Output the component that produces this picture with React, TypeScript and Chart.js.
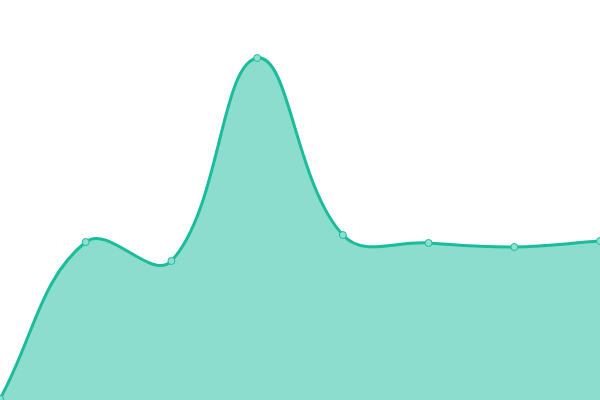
import { useEffect, useRef } from 'react';
import Chart from 'chart.js/auto';

const labels = ['1', '2', '3', '4', '5', '6', '7', '8'];
const values = [1, 158, 139, 342, 165, 157, 153, 159];

const AreaChart = () => {
    const chartRef = useRef<HTMLCanvasElement | null>(null);
    const chartInstance = useRef<Chart<"line", number[], string> | null>(null);

    useEffect(() => {
        document.body.style.margin = '0';
        if (chartRef.current) {
            if (chartInstance.current) {
                chartInstance.current.destroy();
            }

            chartInstance.current = new Chart(chartRef.current, {
                type: 'line',
                data: {
                    labels: labels,
                    datasets: [{
                        data: values,
                        fill: true,
                        tension: 0.4,
                        borderColor: '#1abc9c',
                        backgroundColor: 'rgba(26, 188, 156, 0.5)',
                        borderWidth: 3,
                        pointRadius: 3.5,
                        pointBorderWidth: 1,
                        pointBackgroundColor: '#8de0cf',
                        pointBorderColor: '#1abc9c',
                    }],
                },
                options: {
                    animation: false,
                    responsive: true,
                    maintainAspectRatio: false,
                    layout: { padding: 0, autoPadding: false },
                    scales: {
                        x: { display: false },
                        y: { display: false, min: 0, max: 400 },
                    },
                    plugins: {
                        legend: { display: false },
                        tooltip: { enabled: false },
                    },
                },
            });
        }

        return () => {
            if (chartInstance.current) {
                chartInstance.current.destroy();
                chartInstance.current = null;
            }
        };
    }, []);

    return (
        <div style={{ position: 'relative', width: 600, height: 400 }}>
            <canvas ref={chartRef}></canvas>
        </div>
    );
};

export default function App() {
    return <AreaChart />;
}
